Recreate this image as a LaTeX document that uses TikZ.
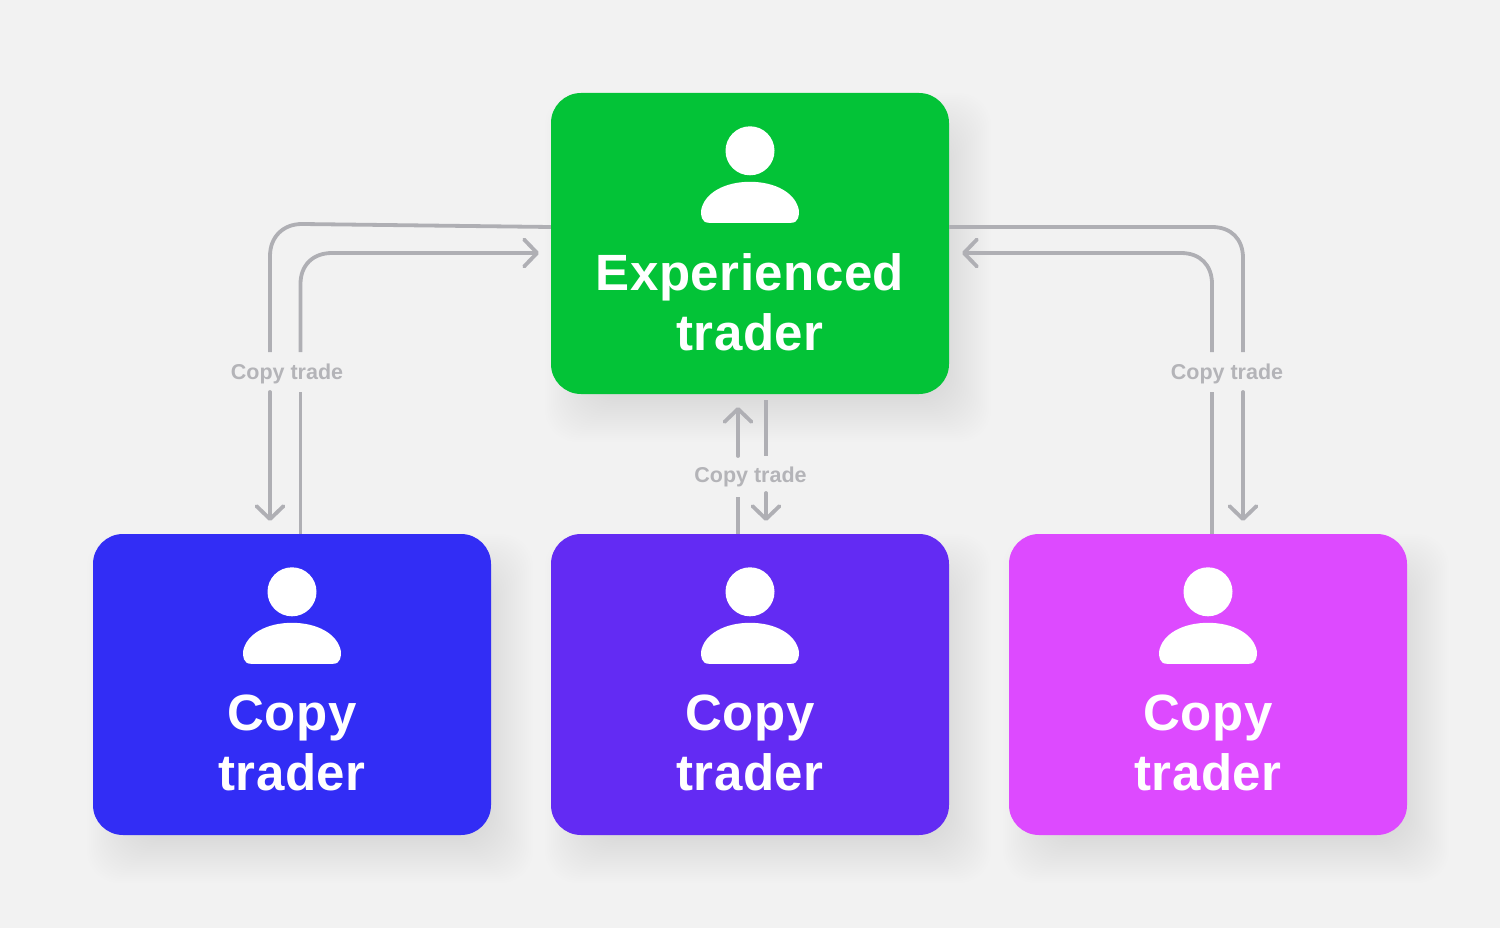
\documentclass[tikz,border=0pt]{standalone}
\usepackage{fontspec}
\setmainfont{Liberation Sans}
\usetikzlibrary{arrows.meta,positioning}
\definecolor{pagebg}{HTML}{F2F2F2}
\definecolor{linegray}{HTML}{AFAFB4}
\definecolor{labelgray}{HTML}{B4B4B8}
\definecolor{expgreen}{HTML}{03C337}
\definecolor{copyblue}{HTML}{322DF5}
\definecolor{copyviolet}{HTML}{632BF3}
\definecolor{copypink}{HTML}{DD4AFF}
\tikzset{
  traderbox/.style={rectangle, rounded corners=30pt, minimum width=398pt, minimum height=301pt, inner sep=0pt},
  nametext/.style={text=white, font=\fontsize{51}{60}\selectfont\bfseries\addfontfeature{LetterSpace=1}, align=center},
  tradelabel/.style={text=labelgray, font=\fontsize{21.5}{24}\selectfont\bfseries, minimum height=40pt, inner sep=0pt},
  flow/.style={draw=linegray, line width=3.8pt},
  flowtip/.style={flow, -{Straight Barb[length=13pt,width=27pt,round]}, line cap=round},
  person/.pic={
    \fill[white] (0,58) circle (24.5);
    \fill[white] (-41,130) .. controls (-49,130) and (-49,122) .. (-49,118)
      .. controls (-46,100) and (-25,89) .. (0,89)
      .. controls (25,89) and (46,100) .. (49,118)
      .. controls (49,122) and (49,130) .. (41,130) -- cycle;
  }
}
\begin{document}
\begin{tikzpicture}[x=1pt,y=-1pt]
  % Page
  \fill[pagebg] (0,0) rectangle (1500,928);

  % Soft shadows under the boxes
  \foreach \cx/\cy in {750/243.5, 292/684.5, 750/684.5, 1208/684.5} {
    \foreach \g in {24,22,...,-24} {
      \fill[black, opacity=0.0042, rounded corners=32pt]
        (\cx-199-\g+18, \cy-150.5-\g+24) rectangle (\cx+199+\g+18, \cy+150.5+\g+24);
    }
  }

  % --- TOP BOX ---
  \node[traderbox, fill=expgreen] (exp) at (750,243.5) {};
  \pic at (exp.north) {person};
  \node[nametext] (exptext) at (750,302) {Experienced\\trader};

  % --- BOTTOM BOXES ---
  \node[traderbox, fill=copyblue] (copyA) at (292,684.5) {};
  \pic at (copyA.north) {person};
  \node[nametext] (copyAtext) at (292,743) {Copy\\trader};

  \node[traderbox, fill=copyviolet] (copyB) at (750,684.5) {};
  \pic at (copyB.north) {person};
  \node[nametext] (copyBtext) at (750,743) {Copy\\trader};

  \node[traderbox, fill=copypink] (copyC) at (1208,684.5) {};
  \pic at (copyC.north) {person};
  \node[nametext] (copyCtext) at (1208,743) {Copy\\trader};

  % Labels
  \node[tradelabel] (labA) at (287,374) {Copy trade};
  \node[tradelabel] (labB) at (750.5,477) {Copy trade};
  \node[tradelabel] (labC) at (1227,374) {Copy trade};

  % --- LEFT PAIR ---
  \draw[flow] (exp.west |- 0,227) -- (302,224) .. controls (283,224) and (270,237) .. (270,256) -- (270,352);
  \draw[flowtip] (270,392) -- (270,521);
  \draw[flow] (300.5,534) -- (300.5,392);
  \draw[flow] (300.5,352) -- (300.5,284) .. controls (300.5,265) and (313,253) .. (332,253) -- (400,253);
  \draw[flowtip] (400,253) -- (539,253);

  % --- MIDDLE PAIR ---
  \draw[flow] (738,534) -- (738,497);
  \draw[flowtip] (738,456) -- (738,407);
  \draw[flow] (766,400) -- (766,456);
  \draw[flowtip] (766,493) -- (766,521);

  % --- RIGHT PAIR ---
  \draw[flow] (exp.east |- 0,227) -- (1212,227) .. controls (1231,227) and (1243,239) .. (1243,258) -- (1243,352);
  \draw[flowtip] (1243,392) -- (1243,521);
  \draw[flow] (1212,534) -- (1212,392);
  \draw[flow] (1212,352) -- (1212,284) .. controls (1212,265) and (1200,253) .. (1181,253) -- (1100,253);
  \draw[flowtip] (1100,253) -- (962,253);
\end{tikzpicture}
\end{document}
